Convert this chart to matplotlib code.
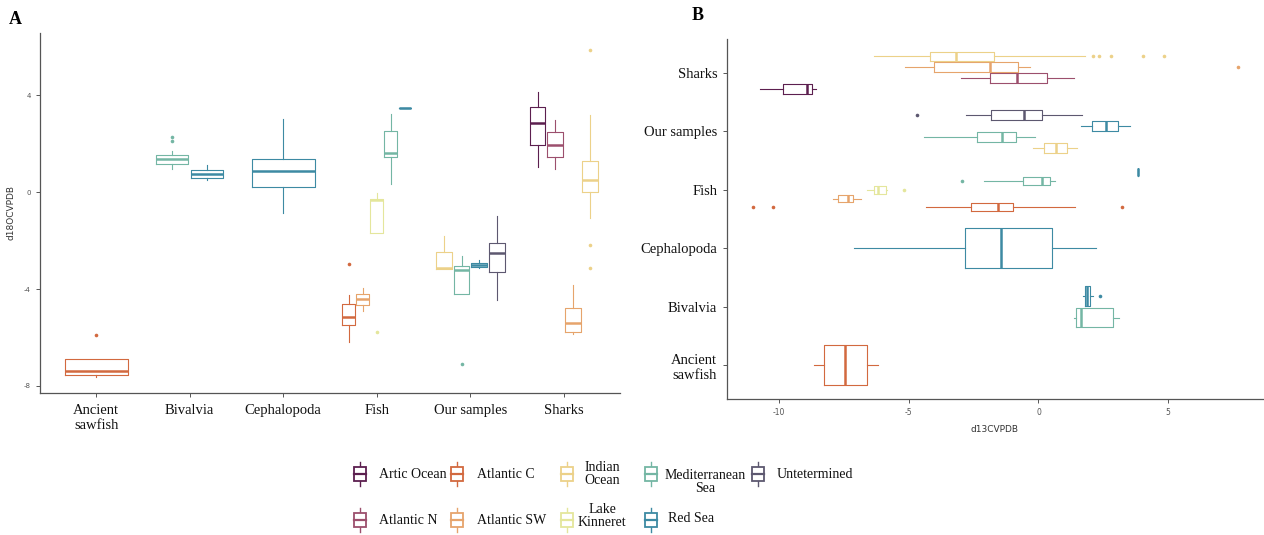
import matplotlib.pyplot as plt
from matplotlib.patches import Rectangle
from matplotlib.lines import Line2D

categories = ["Ancient\nsawfish", "Bivalvia", "Cephalopoda", "Fish", "Our samples", "Sharks"]
regions = ["Artic Ocean", "Atlantic C", "Atlantic N", "Atlantic SW", "Indian Ocean",
           "Lake Kinneret", "Mediterranean Sea", "Red Sea", "Untetermined"]
region_colors = ["#5c1f4f", "#d2693f", "#9c4f6d", "#e6a46c", "#ecd189",
                 "#e4e69c", "#74b6a4", "#3d8aa3", "#5d5870"]

# one box per (category, region) group
box_cat = [0, 1, 1, 2, 3, 3, 3, 3, 3, 4, 4, 4, 4, 5, 5, 5, 5]
box_reg = ["Atlantic C",
           "Mediterranean Sea", "Red Sea",
           "Red Sea",
           "Atlantic C", "Atlantic SW", "Lake Kinneret", "Mediterranean Sea", "Red Sea",
           "Indian Ocean", "Mediterranean Sea", "Red Sea", "Untetermined",
           "Artic Ocean", "Atlantic N", "Atlantic SW", "Indian Ocean"]

# d18O (VPDB) box statistics
o_lo = [-7.61, 0.95, 0.49, -0.88, -6.17, -4.89, -1.70, 0.32, 3.45,
        -3.19, -4.22, -3.15, -4.45, 1.02, 0.94, -5.86, -1.06]
o_q1 = [-7.55, 1.15, 0.59, 0.19, -5.50, -4.66, -1.70, 1.44, 3.45,
        -3.19, -4.22, -3.08, -3.29, 1.94, 1.44, -5.76, -0.01]
o_med = [-7.37, 1.37, 0.74, 0.85, -5.15, -4.43, -0.33, 1.59, 3.45,
         -3.15, -3.22, -3.01, -2.53, 2.86, 1.94, -5.39, 0.49]
o_q3 = [-6.90, 1.51, 0.89, 1.37, -4.63, -4.21, -0.29, 2.53, 3.45,
        -2.46, -3.04, -2.92, -2.12, 3.49, 2.49, -4.77, 1.29]
o_hi = [-6.90, 1.70, 1.11, 3.01, -4.25, -3.97, -0.03, 3.23, 3.45,
        -1.81, -2.64, -2.80, -0.99, 4.11, 2.97, -3.84, 3.18]
o_out = [[-5.90], [2.12, 2.28], [], [], [-2.98], [], [-5.79], [], [],
         [], [-7.08], [], [], [], [], [], [5.86, -2.19, -3.15]]

# d13C (VPDB) box statistics
c_lo = [-8.65, 1.36, 1.73, -7.10, -4.35, -7.93, -6.59, -2.08, 3.82,
        -0.22, -4.42, 1.62, -2.81, -10.73, -3.00, -5.15, -6.33]
c_q1 = [-8.28, 1.46, 1.81, -2.83, -2.59, -7.72, -6.33, -0.59, 3.82,
        0.20, -2.38, 2.08, -1.81, -9.85, -1.88, -4.04, -4.18]
c_med = [-7.45, 1.63, 1.88, -1.46, -1.57, -7.33, -6.17, 0.14, 3.82,
         0.68, -1.42, 2.62, -0.54, -8.92, -0.81, -1.88, -3.17]
c_q3 = [-6.59, 2.87, 1.97, 0.53, -0.97, -7.14, -5.88, 0.45, 3.82,
        1.10, -0.88, 3.08, 0.15, -8.73, 0.31, -0.77, -1.72]
c_hi = [-6.17, 3.12, 2.10, 2.22, 1.41, -6.85, -5.82, 0.63, 3.82,
        1.49, -0.15, 3.54, 1.69, -8.58, 1.38, -0.31, 1.78]
c_out = [[], [], [2.38], [], [-11.01, -10.22, 3.22], [], [-5.19], [-2.96], [],
         [], [], [], [-4.69], [], [], [7.69], [2.10, 2.32, 2.81, 4.01, 4.82]]

serif = "Liberation Serif"
axis_grey = "#555555"


def draw_boxes(ax, lo, q1, med, q3, hi, out, orientation):
    for i, cat in enumerate(box_cat):
        group = [j for j, c in enumerate(box_cat) if c == cat]
        n = len(group)
        slot = 0.75 / n
        pos = cat + 1 + (group.index(i) - (n - 1) / 2) * slot
        col = region_colors[regions.index(box_reg[i])]
        stats = {"whislo": lo[i], "q1": q1[i], "med": med[i], "q3": q3[i],
                 "whishi": hi[i], "fliers": out[i]}
        ax.bxp([stats], positions=[pos], widths=[slot * 0.9], orientation=orientation,
               showcaps=False, manage_ticks=False,
               boxprops=dict(color=col, lw=0.8),
               whiskerprops=dict(color=col, lw=0.8),
               medianprops=dict(color=col, lw=1.8),
               flierprops=dict(marker="o", markersize=2.6, markerfacecolor=col,
                               markeredgecolor="none"))


def style_axes(ax):
    for side in ["top", "right"]:
        ax.spines[side].set_visible(False)
    for side in ["left", "bottom"]:
        ax.spines[side].set_color(axis_grey)
        ax.spines[side].set_linewidth(0.9)
    ax.tick_params(length=3, width=0.7, color=axis_grey)


fig = plt.figure(figsize=(12.64, 5.35), dpi=100)

# panel A: d18O by category
ax1 = fig.add_axes([40 / 1264, 142 / 535, 580 / 1264, 360 / 535])
draw_boxes(ax1, o_lo, o_q1, o_med, o_q3, o_hi, o_out, "vertical")
ax1.set_xlim(0.4, 6.6)
ax1.set_ylim(-8.29, 6.56)
ax1.set_xticks(range(1, 7))
ax1.set_xticklabels(categories, fontfamily=serif, fontsize=10.5, color="#111111")
ax1.set_yticks([-8, -4, 0, 4])
ax1.set_yticklabels(["-8", "-4", "0", "4"], fontsize=5, color="#555555")
ax1.set_ylabel("d18OCVPDB", fontsize=6.5, color="#333333", labelpad=6)
style_axes(ax1)
ax1.tick_params(axis="x", pad=5)

# panel B: d13C by category, horizontal
ax2 = fig.add_axes([727 / 1264, 136 / 535, 536 / 1264, 360 / 535])
draw_boxes(ax2, c_lo, c_q1, c_med, c_q3, c_hi, c_out, "horizontal")
ax2.set_xlim(-12.0, 8.65)
ax2.set_ylim(0.42, 6.58)
ax2.set_yticks(range(1, 7))
ax2.set_yticklabels(categories, fontfamily=serif, fontsize=10.5, color="#111111",
                    multialignment="center")
ax2.set_xticks([-10, -5, 0, 5])
ax2.set_xticklabels(["-10", "-5", "0", "5"], fontsize=5.5, color="#555555")
ax2.set_xlabel("d13CVPDB", fontsize=6.5, color="#333333", labelpad=6)
style_axes(ax2)
ax2.tick_params(axis="y", pad=4)

fig.text(15 / 1264, 1 - 20 / 535, "A", fontfamily=serif, fontweight="bold",
         fontsize=13, va="center", ha="center")
fig.text(698 / 1264, 1 - 16 / 535, "B", fontfamily=serif, fontweight="bold",
         fontsize=13, va="center", ha="center")

# legend with boxplot key glyphs, laid out in pixel space
leg = fig.add_axes([0, 0, 1, 1], zorder=-1)
leg.set_xlim(0, 1264)
leg.set_ylim(535, 0)
leg.axis("off")

leg_labels = ["Artic Ocean", "Atlantic C", "Indian\nOcean", "Mediterranean\nSea", "Untetermined",
              "Atlantic N", "Atlantic SW", "Lake\nKinneret", "Red Sea"]
leg_regions = ["Artic Ocean", "Atlantic C", "Indian Ocean", "Mediterranean Sea", "Untetermined",
               "Atlantic N", "Atlantic SW", "Lake Kinneret", "Red Sea"]
glyph_x = [360, 457, 567, 651, 758, 360, 457, 567, 651]
glyph_y = [474, 474, 474, 474, 474, 520, 520, 520, 520]
text_x = [379, 477, 602, 705, 777, 379, 477, 602, 668]
text_y = [474, 474, 474, 482, 474, 520, 520, 516, 518]
text_ha = ["left", "left", "center", "center", "left", "left", "left", "center", "left"]

for lab, reg, gx, gy, tx, ty, ha in zip(leg_labels, leg_regions, glyph_x, glyph_y,
                                        text_x, text_y, text_ha):
    col = region_colors[regions.index(reg)]
    leg.add_line(Line2D([gx, gx], [gy - 12, gy + 12], color=col, lw=1.0, zorder=1))
    leg.add_patch(Rectangle((gx - 6, gy - 7), 12, 14, facecolor="white",
                            edgecolor=col, lw=1.3, zorder=2))
    leg.add_line(Line2D([gx - 6, gx + 6], [gy, gy], color=col, lw=1.6, zorder=3))
    leg.text(tx, ty, lab, fontfamily=serif, fontsize=10, ha=ha, va="center",
             multialignment="center", linespacing=0.95, color="#111111")

fig.savefig("out.png", dpi=100)
